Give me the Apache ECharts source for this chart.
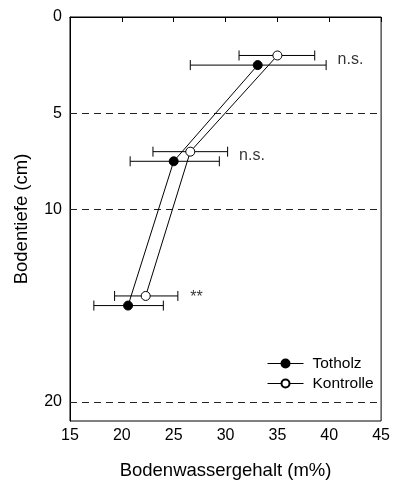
<!DOCTYPE html>
<html>
<head>
<meta charset="utf-8">
<script src="https://cdn.jsdelivr.net/npm/echarts@6/dist/echarts.min.js"></script>
<style>
  html, body { margin: 0; padding: 0; background: #fff; }
  #main { width: 393px; height: 488px; }
</style>
</head>
<body>
<div id="main"></div>
<script>
// depths (cm) and water content (m%)
var depthTotholz = [2.5, 7.5, 15.0];
var meanTotholz = [33.1, 25.0, 20.6];
var lowTotholz = [26.6, 20.8, 17.3];
var highTotholz = [39.7, 29.4, 24.0];

var depthKontrolle = [2.0, 7.0, 14.5];
var meanKontrolle = [35.0, 26.6, 22.3];
var lowKontrolle = [31.3, 23.0, 19.3];
var highKontrolle = [38.6, 30.2, 25.4];

var yTickLabels = [0, 5, 10, 20];
var gridDepths = [5, 10, 20];

var noteText = ['n.s.', 'n.s.', '**'];
var noteX = [40.8, 31.3, 26.6];
var noteY = [2.2, 7.2, 14.6];

var font = 'Liberation Sans, Arial, sans-serif';

function pts(xs, ys) {
    return xs.map(function (x, i) { return [x, ys[i]]; });
}
function errData(lo, hi, ys) {
    return lo.map(function (l, i) { return [l, hi[i], ys[i]]; });
}

function renderErr(params, api) {
    var a = api.coord([api.value(0), api.value(2)]);
    var b = api.coord([api.value(1), api.value(2)]);
    var h = 5;
    var st = { stroke: '#000', lineWidth: 1 };
    return {
        type: 'group',
        children: [
            { type: 'line', shape: { x1: a[0], y1: a[1], x2: b[0], y2: b[1] }, style: st },
            { type: 'line', shape: { x1: a[0], y1: a[1] - h, x2: a[0], y2: a[1] + h }, style: st },
            { type: 'line', shape: { x1: b[0], y1: b[1] - h, x2: b[0], y2: b[1] + h }, style: st }
        ]
    };
}

var myChart = echarts.init(document.getElementById('main'), null, { renderer: 'canvas' });
var option = {
    animation: false,
    textStyle: { fontFamily: font },
    grid: {
        left: 70, top: 17, right: 9, bottom: 67,
        show: true, borderColor: '#000', borderWidth: 1
    },
    legend: {
        left: 262, top: 350, orient: 'vertical',
        itemWidth: 36, itemHeight: 10, itemGap: 3,
        lineStyle: { width: 1 },
        textStyle: { fontSize: 15.5, lineHeight: 17, color: '#000', fontFamily: font, padding: [0, 0, 0, 4] },
        data: ['Totholz', 'Kontrolle']
    },
    xAxis: {
        type: 'value', min: 15, max: 45, interval: 5,
        name: 'Bodenwassergehalt (m%)', nameLocation: 'middle', nameGap: 40,
        nameTextStyle: { fontSize: 18.5, color: '#000', fontFamily: font },
        axisLine: { lineStyle: { color: '#000', width: 1 } },
        axisTick: { show: true, inside: false, length: 5, lineStyle: { color: '#000' } },
        axisLabel: { fontSize: 16, color: '#000', margin: 7, fontFamily: font },
        splitLine: { show: false }
    },
    yAxis: {
        type: 'value', min: 0, max: 21, interval: 5, inverse: true,
        name: 'Bodentiefe (cm)', nameLocation: 'middle', nameGap: 39,
        nameTextStyle: { fontSize: 18.5, color: '#000', fontFamily: font },
        axisLine: { lineStyle: { color: '#000', width: 1 } },
        axisTick: { show: false },
        axisLabel: {
            fontSize: 16, color: '#000', margin: 8, fontFamily: font,
            showMaxLabel: false,
            formatter: function (v) { return yTickLabels.indexOf(v) >= 0 ? String(v) : ''; }
        },
        splitLine: { show: false }
    },
    series: [
        {
            type: 'line', name: 'grid', silent: true, data: [],
            markLine: {
                silent: true, symbol: 'none', label: { show: false },
                lineStyle: { color: '#222', width: 1, type: [7, 5] },
                data: gridDepths.map(function (d) { return { yAxis: d }; })
            }
        },
        {
            type: 'custom', name: 'errT', renderItem: renderErr,
            data: errData(lowTotholz, highTotholz, depthTotholz), z: 3
        },
        {
            type: 'custom', name: 'errK', renderItem: renderErr,
            data: errData(lowKontrolle, highKontrolle, depthKontrolle), z: 3
        },
        {
            type: 'line', name: 'Totholz', data: pts(meanTotholz, depthTotholz),
            symbol: 'circle', symbolSize: 9, z: 5,
            lineStyle: { color: '#000', width: 1 },
            itemStyle: { color: '#000', borderColor: '#000', borderWidth: 1 }
        },
        {
            type: 'line', name: 'Kontrolle', data: pts(meanKontrolle, depthKontrolle),
            symbol: 'circle', symbolSize: 9, z: 5,
            lineStyle: { color: '#000', width: 1 },
            itemStyle: { color: '#fff', borderColor: '#000', borderWidth: 1 }
        },
        {
            type: 'scatter', name: 'notes', symbolSize: 0, silent: true,
            data: noteX.map(function (x, i) { return [x, noteY[i], noteText[i]]; }),
            label: {
                show: true, position: 'right', distance: 0,
                formatter: function (p) { return p.value[2]; },
                fontSize: 16, color: '#000', fontFamily: font
            }
        }
    ]
};
myChart.setOption(option);
</script>
</body>
</html>
